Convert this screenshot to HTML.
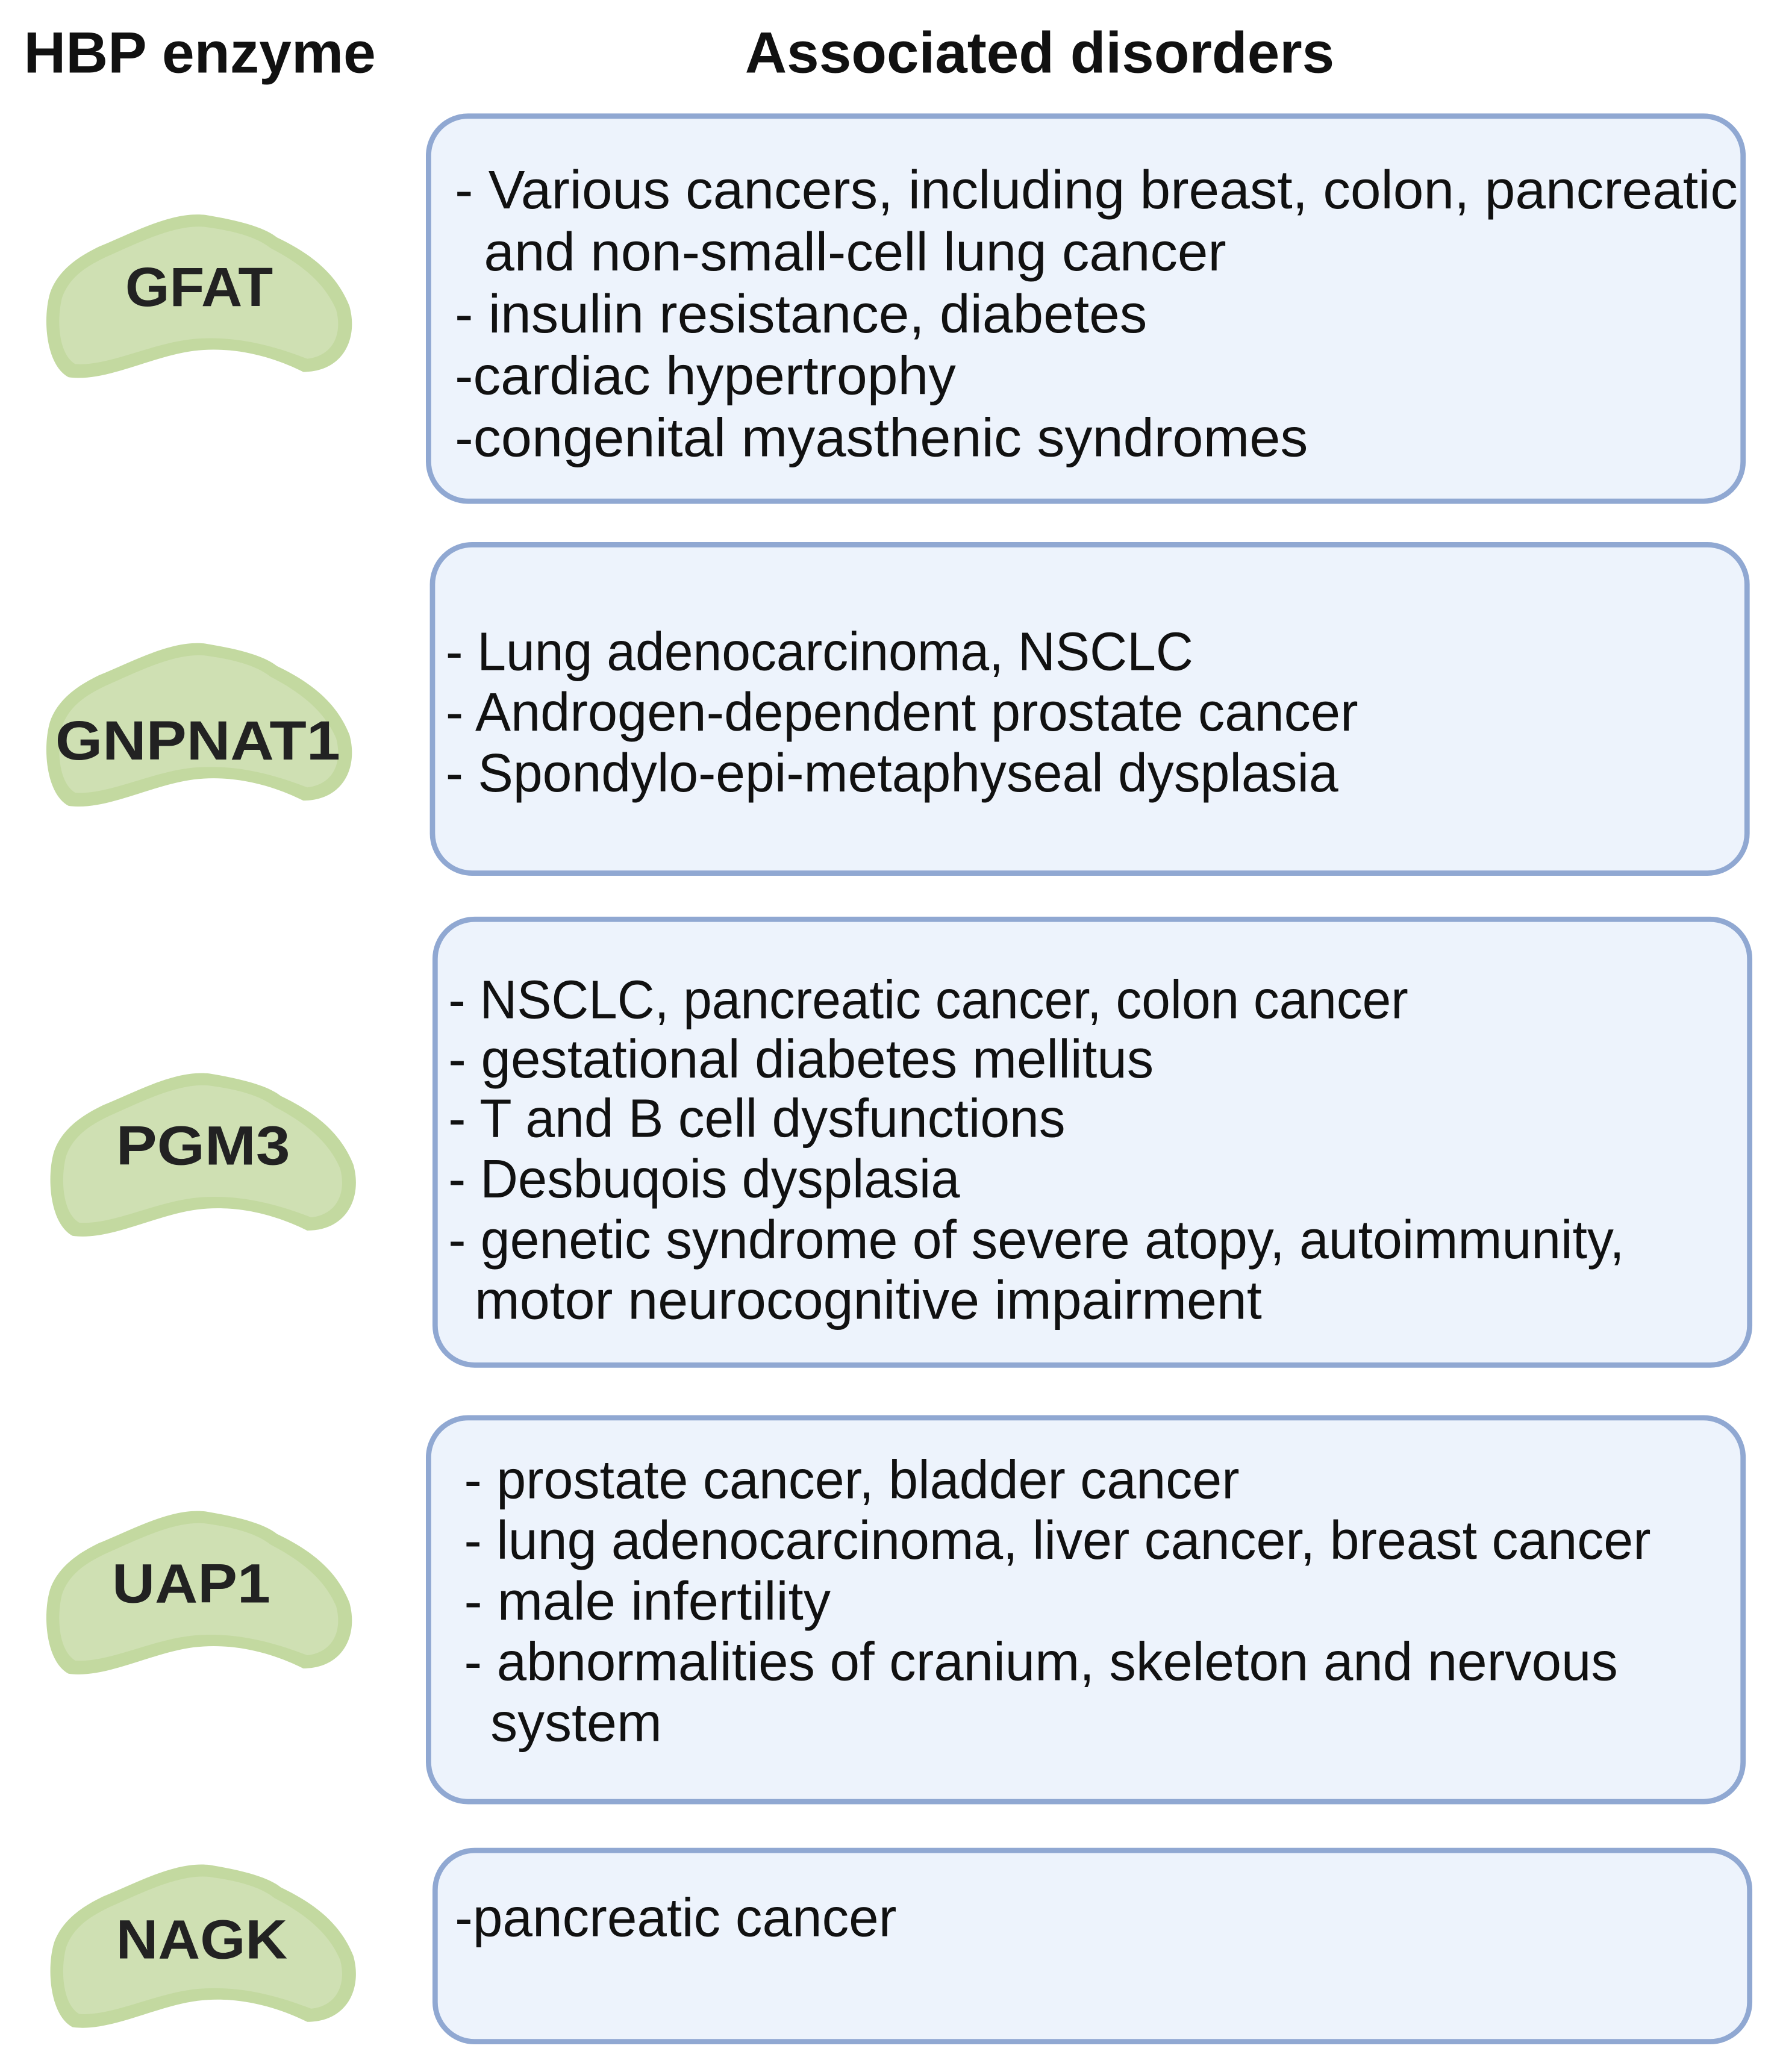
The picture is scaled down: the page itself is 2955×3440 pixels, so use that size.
<!DOCTYPE html>
<html><head><meta charset="utf-8"><style>
html,body{margin:0;padding:0;background:#fff;}
svg{display:block;}
text{font-family:"Liberation Sans",Arial,sans-serif;fill:#111;}
.t{font-size:41px;}
.h{font-size:44px;font-weight:bold;}
.e{font-size:42px;font-weight:bold;fill:#222;}
.box{fill:#edf3fc;stroke:#90a8d2;stroke-width:4;}
</style></head><body>
<svg width="2955" height="3440" viewBox="0 0 1350 1571" preserveAspectRatio="none" xmlns="http://www.w3.org/2000/svg">
<defs>
<g id="blob">
<path d="M126,1 C150,5 170,10 180,18 C205,30 225,45 235,70 C242,95 230,120 200,120 C180,110 150,100 117,104 C85,108 50,128 22,124 C5,115 2,80 8,60 C15,40 35,30 45,25 C70,15 100,-2 126,1 Z" fill="#c3d9a0"/>
<path d="M125,10 C148,13 165,18 175,26 C198,38 216,52 225,73 C230,92 222,108 203,110 C182,102 152,92 117,95 C85,98 52,116 27,114 C14,106 13,80 17,64 C23,46 40,38 50,33 C73,23 102,8 125,10 Z" fill="#cfe0b3"/>
</g>
</defs>
<text class="h" x="18" y="55" textLength="267" lengthAdjust="spacingAndGlyphs">HBP enzyme</text>
<text class="h" x="565" y="55" textLength="447" lengthAdjust="spacingAndGlyphs">Associated disorders</text>

<rect class="box" x="325" y="88" width="997" height="292" rx="30"/>
<rect class="box" x="328" y="413" width="997" height="249" rx="30"/>
<rect class="box" x="330" y="697" width="997" height="338" rx="30"/>
<rect class="box" x="325" y="1075" width="997" height="291" rx="30"/>
<rect class="box" x="330" y="1403" width="997" height="145" rx="30"/>

<use href="#blob" x="30" y="162"/>
<use href="#blob" x="30" y="487"/>
<use href="#blob" x="33" y="813"/>
<use href="#blob" x="30" y="1145"/>
<use href="#blob" x="33" y="1413"/>
<text class="e" x="95" y="232" textLength="112" lengthAdjust="spacingAndGlyphs">GFAT</text>
<text class="e" x="42" y="576" textLength="216" lengthAdjust="spacingAndGlyphs">GNPNAT1</text>
<text class="e" x="88" y="883" textLength="132" lengthAdjust="spacingAndGlyphs">PGM3</text>
<text class="e" x="85" y="1215" textLength="120" lengthAdjust="spacingAndGlyphs">UAP1</text>
<text class="e" x="88" y="1485" textLength="130" lengthAdjust="spacingAndGlyphs">NAGK</text>

<g class="t">
<text class="t" x="345" y="158" textLength="973" lengthAdjust="spacingAndGlyphs">- Various cancers, including breast, colon, pancreatic</text>
<text class="t" x="367" y="205" textLength="563" lengthAdjust="spacingAndGlyphs">and non-small-cell lung cancer</text>
<text class="t" x="345" y="252" textLength="525" lengthAdjust="spacingAndGlyphs">- insulin resistance, diabetes</text>
<text class="t" x="345" y="299" textLength="380" lengthAdjust="spacingAndGlyphs">-cardiac hypertrophy</text>
<text class="t" x="345" y="346" textLength="647" lengthAdjust="spacingAndGlyphs">-congenital myasthenic syndromes</text>

<text class="t" x="338" y="508" textLength="567" lengthAdjust="spacingAndGlyphs">- Lung adenocarcinoma, NSCLC</text>
<text class="t" x="338" y="554" textLength="692" lengthAdjust="spacingAndGlyphs">- Androgen-dependent prostate cancer</text>
<text class="t" x="338" y="600" textLength="677" lengthAdjust="spacingAndGlyphs">- Spondylo-epi-metaphyseal dysplasia</text>

<text class="t" x="340" y="772" textLength="728" lengthAdjust="spacingAndGlyphs">- NSCLC, pancreatic cancer, colon cancer</text>
<text class="t" x="340" y="817" textLength="535" lengthAdjust="spacingAndGlyphs">- gestational diabetes mellitus</text>
<text class="t" x="340" y="862" textLength="468" lengthAdjust="spacingAndGlyphs">- T and B cell dysfunctions</text>
<text class="t" x="340" y="908" textLength="388" lengthAdjust="spacingAndGlyphs">- Desbuqois dysplasia</text>
<text class="t" x="340" y="954" textLength="892" lengthAdjust="spacingAndGlyphs">- genetic syndrome of severe atopy, autoimmunity,</text>
<text class="t" x="360" y="1000" textLength="597" lengthAdjust="spacingAndGlyphs">motor neurocognitive impairment</text>

<text class="t" x="352" y="1136" textLength="588" lengthAdjust="spacingAndGlyphs">- prostate cancer, bladder cancer</text>
<text class="t" x="352" y="1182" textLength="900" lengthAdjust="spacingAndGlyphs">- lung adenocarcinoma, liver cancer, breast cancer</text>
<text class="t" x="352" y="1228" textLength="278" lengthAdjust="spacingAndGlyphs">- male infertility</text>
<text class="t" x="352" y="1274" textLength="875" lengthAdjust="spacingAndGlyphs">- abnormalities of cranium, skeleton and nervous</text>
<text class="t" x="372" y="1320" textLength="130" lengthAdjust="spacingAndGlyphs">system</text>

<text class="t" x="345" y="1468" textLength="335" lengthAdjust="spacingAndGlyphs">-pancreatic cancer</text>
</g>
</svg>
</body></html>
